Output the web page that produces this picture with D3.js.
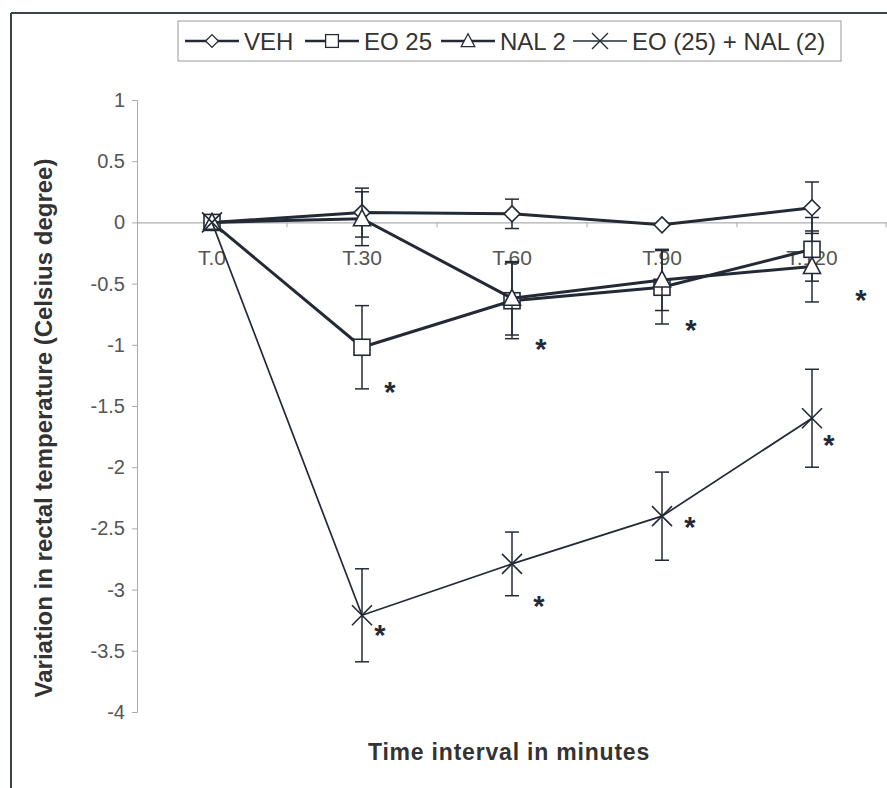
<!doctype html>
<html>
<head>
<meta charset="utf-8">
<title>Rectal temperature</title>
<script src="https://d3js.org/d3.v7.min.js"></script>
<style>
  body { margin: 0; background: #fff; }
  text { font-family: Arial, "Liberation Sans", sans-serif; }
</style>
</head>
<body>
<div id="chart"></div>
<script>
// categories and series
var times = ["T.0", "T.30", "T.60", "T.90", "T.120"];
var vehMean = [0, 0.08, 0.07, -0.02, 0.12];
var vehErr = [0, 0.20, 0.12, 0, 0.21];
var eoMean = [0, -1.02, -0.64, -0.53, -0.22];
var eoErr = [0, 0.34, 0.31, 0.30, 0.26];
var nalMean = [0, 0.03, -0.62, -0.47, -0.36];
var nalErr = [0, 0.22, 0.30, 0.25, 0.29];
var comboMean = [0, -3.21, -2.79, -2.40, -1.60];
var comboErr = [0, 0.38, 0.26, 0.36, 0.40];
var yTicks = [1, 0.5, 0, -0.5, -1, -1.5, -2, -2.5, -3, -3.5, -4];

// significance stars: category + value where they sit
var starTimes = ["T.30", "T.60", "T.90", "T.120", "T.30", "T.60", "T.90", "T.120"];
var starValues = [-1.33, -0.98, -0.82, -0.58, -3.31, -3.08, -2.43, -1.76];

var W = 887, H = 788;
var ink = "#232a36";

var svg = d3.select("#chart").append("svg")
    .attr("width", W).attr("height", H);

// frame lines (top and left of the scanned figure)
svg.append("line").attr("x1", 11).attr("x2", W).attr("y1", 13).attr("y2", 13)
    .attr("stroke", "#3a4250").attr("stroke-width", 2);
svg.append("line").attr("x1", 11).attr("x2", 11).attr("y1", 13).attr("y2", H)
    .attr("stroke", "#3a4250").attr("stroke-width", 2);

var x = d3.scaleBand().domain(times).range([137, 887]);
var y = d3.scaleLinear().domain([-4, 1]).range([712, 100]);
var cx = function (t) { return x(t) + x.bandwidth() / 2; };

// y axis
var yAxis = svg.append("g")
    .attr("transform", "translate(137,0)")
    .call(d3.axisLeft(y).tickValues(yTicks).tickSize(5).tickPadding(7)
        .tickFormat(function (d) { return String(d); }));
yAxis.select(".domain").attr("stroke", "#aaa");
yAxis.selectAll(".tick line").attr("stroke", "#aaa");
yAxis.selectAll(".tick text").attr("font-size", 20).attr("fill", "#555")
    .attr("font-family", "Arial, 'Liberation Sans', sans-serif");

// x axis on zero line
var xAxis = svg.append("g")
    .attr("transform", "translate(0," + y(0) + ")")
    .call(d3.axisBottom(x).tickSize(0).tickSizeOuter(0).tickFormat(""));
xAxis.select(".domain").attr("stroke", "#999");
xAxis.selectAll(".tick").remove();
xAxis.selectAll(".bt").data(times.slice(1).concat(["end"]))
    .enter().append("line")
    .attr("x1", function (d) { return d === "end" ? 886 : x(d); })
    .attr("x2", function (d) { return d === "end" ? 886 : x(d); })
    .attr("y1", 0).attr("y2", 5).attr("stroke", "#aaa");
xAxis.selectAll(".lbl").data(times).enter().append("text")
    .attr("x", cx).attr("y", 43)
    .attr("text-anchor", "middle").attr("font-size", 21).attr("fill", "#555")
    .text(function (d) { return d; });

var series = [
    { name: "VEH", mean: vehMean, err: vehErr, shape: "diamond", width: 3 },
    { name: "EO 25", mean: eoMean, err: eoErr, shape: "square", width: 3 },
    { name: "NAL 2", mean: nalMean, err: nalErr, shape: "triangle", width: 3 },
    { name: "EO (25) + NAL (2)", mean: comboMean, err: comboErr, shape: "cross", width: 1.7 }
];

function marker(g, shape) {
    if (shape === "diamond") {
        g.append("path").attr("d", "M0,-8L8,0L0,8L-8,0Z")
            .attr("fill", "#fff").attr("stroke", ink).attr("stroke-width", 1.6);
    } else if (shape === "square") {
        g.append("rect").attr("x", -8).attr("y", -8).attr("width", 16).attr("height", 16)
            .attr("fill", "#fff").attr("stroke", ink).attr("stroke-width", 1.6);
    } else if (shape === "triangle") {
        g.append("path").attr("d", "M0,-9L8.5,7L-8.5,7Z")
            .attr("fill", "#fff").attr("stroke", ink).attr("stroke-width", 1.6);
    } else {
        g.append("path").attr("d", "M-10,-10L10,10M-10,10L10,-10")
            .attr("fill", "none").attr("stroke", ink).attr("stroke-width", 1.6);
    }
}

var line = d3.line()
    .x(function (d) { return cx(d.t); })
    .y(function (d) { return y(d.v); });

series.forEach(function (s) {
    var pts = times.map(function (t, i) { return { t: t, v: s.mean[i], e: s.err[i] }; });
    var g = svg.append("g");

    // error bars
    var eb = g.selectAll(".eb").data(pts.filter(function (d) { return d.e > 0; }))
        .enter().append("g");
    eb.append("line")
        .attr("x1", function (d) { return cx(d.t); }).attr("x2", function (d) { return cx(d.t); })
        .attr("y1", function (d) { return y(d.v + d.e); }).attr("y2", function (d) { return y(d.v - d.e); })
        .attr("stroke", ink).attr("stroke-width", 1.5);
    [1, -1].forEach(function (sgn) {
        eb.append("line")
            .attr("x1", function (d) { return cx(d.t) - 7; }).attr("x2", function (d) { return cx(d.t) + 7; })
            .attr("y1", function (d) { return y(d.v + sgn * d.e); })
            .attr("y2", function (d) { return y(d.v + sgn * d.e); })
            .attr("stroke", ink).attr("stroke-width", 1.5);
    });

    g.append("path").datum(pts).attr("d", line)
        .attr("fill", "none").attr("stroke", ink).attr("stroke-width", s.width);

    g.selectAll(".m").data(pts).enter().append("g")
        .attr("transform", function (d) { return "translate(" + cx(d.t) + "," + y(d.v) + ")"; })
        .each(function () { marker(d3.select(this), s.shape); });
});

// stars
var starDx = [28, 29, 29, 49, 18, 27, 28, 17];
svg.selectAll(".star").data(starTimes).enter().append("text")
    .attr("x", function (d, i) { return cx(d) + starDx[i]; })
    .attr("y", function (d, i) { return y(starValues[i]) + 17; })
    .attr("text-anchor", "middle").attr("font-size", 29).attr("font-weight", "bold")
    .attr("fill", ink).text("*");

// legend
var legend = svg.append("g");
legend.append("rect").attr("x", 178).attr("y", 21).attr("width", 663).attr("height", 40)
    .attr("fill", "#fff").attr("stroke", "#999").attr("stroke-width", 1);
var legX = [185, 305, 441, 573];
series.forEach(function (s, i) {
    var lg = legend.append("g").attr("transform", "translate(" + legX[i] + ",41)");
    lg.append("line").attr("x1", 0).attr("x2", 54).attr("y1", 0).attr("y2", 0)
        .attr("stroke", ink).attr("stroke-width", s.width === 3 ? 2.5 : 1.7);
    var mg = lg.append("g").attr("transform", "translate(27,0) scale(0.8)");
    marker(mg, s.shape);
    lg.append("text").attr("x", 59).attr("y", 8.5)
        .attr("font-size", 24).attr("fill", "#333").text(s.name);
});

// axis titles
svg.append("text")
    .attr("transform", "translate(52,428) rotate(-90)")
    .attr("text-anchor", "middle").attr("font-size", 24).attr("font-weight", "bold")
    .attr("fill", "#333").text("Variation in rectal temperature (Celsius degree)");
svg.append("text")
    .attr("x", 509).attr("y", 760)
    .attr("text-anchor", "middle").attr("font-size", 23).attr("font-weight", "bold")
    .attr("letter-spacing", 0.8)
    .attr("fill", "#333").text("Time interval in minutes");
</script>
</body>
</html>
